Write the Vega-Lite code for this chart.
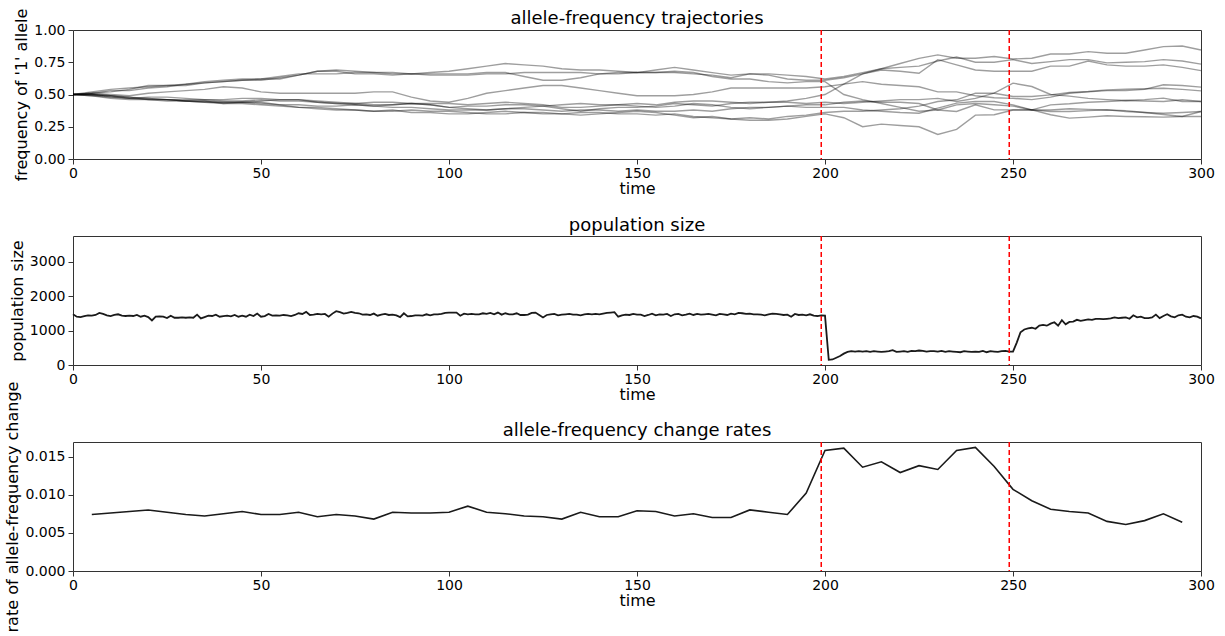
{
"$schema": "https://vega.github.io/schema/vega-lite/v6.json",
"padding": {"left": 4, "top": 7, "right": 5, "bottom": 5},
"config": {
  "font": "DejaVu Sans",
  "view": {"stroke": "#333", "strokeWidth": 1},
  "axis": {"domain": false, "grid": false, "tickColor": "#333", "tickSize": 5, "labelFontSize": 14, "labelColor": "#000", "titleFontSize": 16, "titleFontWeight": "normal", "titleColor": "#000", "labelPadding": 3, "labelFlush": false},
  "axisX": {"labelPadding": 2, "titlePadding": 0},
  "title": {"fontSize": 18, "fontWeight": "normal", "color": "#000", "offset": 5, "frame": "group"}
},
"vconcat": [
{
  "width": 1128, "height": 129,
  "title": {"text": "allele-frequency trajectories", "dy": 25},
  "layer": [
    {
      "data": {"values": [
{"s":1,"t":0,"f":0.50},{"s":1,"t":5,"f":0.52},{"s":1,"t":10,"f":0.54},{"s":1,"t":15,"f":0.55},{"s":1,"t":20,"f":0.56},{"s":1,"t":25,"f":0.57},{"s":1,"t":30,"f":0.57},{"s":1,"t":35,"f":0.59},{"s":1,"t":40,"f":0.60},{"s":1,"t":45,"f":0.61},{"s":1,"t":50,"f":0.61},{"s":1,"t":55,"f":0.63},{"s":1,"t":60,"f":0.65},{"s":1,"t":65,"f":0.68},{"s":1,"t":70,"f":0.69},{"s":1,"t":75,"f":0.68},{"s":1,"t":80,"f":0.67},{"s":1,"t":85,"f":0.67},{"s":1,"t":90,"f":0.66},{"s":1,"t":95,"f":0.67},{"s":1,"t":100,"f":0.68},{"s":1,"t":105,"f":0.70},{"s":1,"t":110,"f":0.72},{"s":1,"t":115,"f":0.74},{"s":1,"t":120,"f":0.73},{"s":1,"t":125,"f":0.72},{"s":1,"t":130,"f":0.70},{"s":1,"t":135,"f":0.69},{"s":1,"t":140,"f":0.69},{"s":1,"t":145,"f":0.68},{"s":1,"t":150,"f":0.67},{"s":1,"t":155,"f":0.69},{"s":1,"t":160,"f":0.71},{"s":1,"t":165,"f":0.69},{"s":1,"t":170,"f":0.67},{"s":1,"t":175,"f":0.65},{"s":1,"t":180,"f":0.66},{"s":1,"t":185,"f":0.66},{"s":1,"t":190,"f":0.65},{"s":1,"t":195,"f":0.64},{"s":1,"t":200,"f":0.62},{"s":1,"t":205,"f":0.64},{"s":1,"t":210,"f":0.67},{"s":1,"t":215,"f":0.70},{"s":1,"t":220,"f":0.71},{"s":1,"t":225,"f":0.72},{"s":1,"t":230,"f":0.76},{"s":1,"t":235,"f":0.79},{"s":1,"t":240,"f":0.75},{"s":1,"t":245,"f":0.75},{"s":1,"t":250,"f":0.77},{"s":1,"t":255,"f":0.74},{"s":1,"t":260,"f":0.755},{"s":1,"t":265,"f":0.77},{"s":1,"t":270,"f":0.77},{"s":1,"t":275,"f":0.745},{"s":1,"t":280,"f":0.75},{"s":1,"t":285,"f":0.755},{"s":1,"t":290,"f":0.77},{"s":1,"t":295,"f":0.76},{"s":1,"t":300,"f":0.735},
{"s":2,"t":0,"f":0.50},{"s":2,"t":5,"f":0.51},{"s":2,"t":10,"f":0.53},{"s":2,"t":15,"f":0.53},{"s":2,"t":20,"f":0.55},{"s":2,"t":25,"f":0.56},{"s":2,"t":30,"f":0.58},{"s":2,"t":35,"f":0.59},{"s":2,"t":40,"f":0.60},{"s":2,"t":45,"f":0.61},{"s":2,"t":50,"f":0.62},{"s":2,"t":55,"f":0.64},{"s":2,"t":60,"f":0.66},{"s":2,"t":65,"f":0.66},{"s":2,"t":70,"f":0.66},{"s":2,"t":75,"f":0.67},{"s":2,"t":80,"f":0.67},{"s":2,"t":85,"f":0.66},{"s":2,"t":90,"f":0.66},{"s":2,"t":95,"f":0.66},{"s":2,"t":100,"f":0.66},{"s":2,"t":105,"f":0.66},{"s":2,"t":110,"f":0.67},{"s":2,"t":115,"f":0.67},{"s":2,"t":120,"f":0.64},{"s":2,"t":125,"f":0.61},{"s":2,"t":130,"f":0.61},{"s":2,"t":135,"f":0.63},{"s":2,"t":140,"f":0.66},{"s":2,"t":145,"f":0.67},{"s":2,"t":150,"f":0.67},{"s":2,"t":155,"f":0.67},{"s":2,"t":160,"f":0.67},{"s":2,"t":165,"f":0.66},{"s":2,"t":170,"f":0.65},{"s":2,"t":175,"f":0.63},{"s":2,"t":180,"f":0.66},{"s":2,"t":185,"f":0.65},{"s":2,"t":190,"f":0.62},{"s":2,"t":195,"f":0.61},{"s":2,"t":200,"f":0.61},{"s":2,"t":205,"f":0.63},{"s":2,"t":210,"f":0.66},{"s":2,"t":215,"f":0.69},{"s":2,"t":220,"f":0.68},{"s":2,"t":225,"f":0.665},{"s":2,"t":230,"f":0.77},{"s":2,"t":235,"f":0.73},{"s":2,"t":240,"f":0.69},{"s":2,"t":245,"f":0.68},{"s":2,"t":250,"f":0.68},{"s":2,"t":255,"f":0.68},{"s":2,"t":260,"f":0.72},{"s":2,"t":265,"f":0.72},{"s":2,"t":270,"f":0.76},{"s":2,"t":275,"f":0.73},{"s":2,"t":280,"f":0.72},{"s":2,"t":285,"f":0.72},{"s":2,"t":290,"f":0.73},{"s":2,"t":295,"f":0.71},{"s":2,"t":300,"f":0.685},
{"s":3,"t":0,"f":0.50},{"s":3,"t":5,"f":0.51},{"s":3,"t":10,"f":0.52},{"s":3,"t":15,"f":0.54},{"s":3,"t":20,"f":0.57},{"s":3,"t":25,"f":0.57},{"s":3,"t":30,"f":0.58},{"s":3,"t":35,"f":0.60},{"s":3,"t":40,"f":0.61},{"s":3,"t":45,"f":0.62},{"s":3,"t":50,"f":0.62},{"s":3,"t":55,"f":0.62},{"s":3,"t":60,"f":0.65},{"s":3,"t":65,"f":0.68},{"s":3,"t":70,"f":0.68},{"s":3,"t":75,"f":0.66},{"s":3,"t":80,"f":0.66},{"s":3,"t":85,"f":0.65},{"s":3,"t":90,"f":0.66},{"s":3,"t":95,"f":0.65},{"s":3,"t":100,"f":0.65},{"s":3,"t":105,"f":0.65},{"s":3,"t":110,"f":0.66},{"s":3,"t":115,"f":0.66},{"s":3,"t":120,"f":0.67},{"s":3,"t":125,"f":0.67},{"s":3,"t":130,"f":0.67},{"s":3,"t":135,"f":0.67},{"s":3,"t":140,"f":0.66},{"s":3,"t":145,"f":0.66},{"s":3,"t":150,"f":0.67},{"s":3,"t":155,"f":0.67},{"s":3,"t":160,"f":0.68},{"s":3,"t":165,"f":0.67},{"s":3,"t":170,"f":0.64},{"s":3,"t":175,"f":0.62},{"s":3,"t":180,"f":0.62},{"s":3,"t":185,"f":0.60},{"s":3,"t":190,"f":0.59},{"s":3,"t":195,"f":0.60},{"s":3,"t":200,"f":0.60},{"s":3,"t":205,"f":0.50},{"s":3,"t":210,"f":0.46},{"s":3,"t":215,"f":0.43},{"s":3,"t":220,"f":0.40},{"s":3,"t":225,"f":0.37},{"s":3,"t":230,"f":0.38},{"s":3,"t":235,"f":0.42},{"s":3,"t":240,"f":0.43},{"s":3,"t":245,"f":0.42},{"s":3,"t":250,"f":0.41},{"s":3,"t":255,"f":0.38},{"s":3,"t":260,"f":0.38},{"s":3,"t":265,"f":0.39},{"s":3,"t":270,"f":0.385},{"s":3,"t":275,"f":0.38},{"s":3,"t":280,"f":0.375},{"s":3,"t":285,"f":0.36},{"s":3,"t":290,"f":0.345},{"s":3,"t":295,"f":0.33},{"s":3,"t":300,"f":0.368},
{"s":4,"t":0,"f":0.50},{"s":4,"t":5,"f":0.50},{"s":4,"t":10,"f":0.49},{"s":4,"t":15,"f":0.48},{"s":4,"t":20,"f":0.46},{"s":4,"t":25,"f":0.46},{"s":4,"t":30,"f":0.45},{"s":4,"t":35,"f":0.45},{"s":4,"t":40,"f":0.44},{"s":4,"t":45,"f":0.44},{"s":4,"t":50,"f":0.45},{"s":4,"t":55,"f":0.46},{"s":4,"t":60,"f":0.46},{"s":4,"t":65,"f":0.45},{"s":4,"t":70,"f":0.44},{"s":4,"t":75,"f":0.43},{"s":4,"t":80,"f":0.42},{"s":4,"t":85,"f":0.42},{"s":4,"t":90,"f":0.43},{"s":4,"t":95,"f":0.42},{"s":4,"t":100,"f":0.40},{"s":4,"t":105,"f":0.41},{"s":4,"t":110,"f":0.41},{"s":4,"t":115,"f":0.42},{"s":4,"t":120,"f":0.42},{"s":4,"t":125,"f":0.41},{"s":4,"t":130,"f":0.39},{"s":4,"t":135,"f":0.37},{"s":4,"t":140,"f":0.39},{"s":4,"t":145,"f":0.40},{"s":4,"t":150,"f":0.40},{"s":4,"t":155,"f":0.41},{"s":4,"t":160,"f":0.43},{"s":4,"t":165,"f":0.42},{"s":4,"t":170,"f":0.41},{"s":4,"t":175,"f":0.43},{"s":4,"t":180,"f":0.44},{"s":4,"t":185,"f":0.44},{"s":4,"t":190,"f":0.45},{"s":4,"t":195,"f":0.47},{"s":4,"t":200,"f":0.50},{"s":4,"t":205,"f":0.58},{"s":4,"t":210,"f":0.66},{"s":4,"t":215,"f":0.70},{"s":4,"t":220,"f":0.74},{"s":4,"t":225,"f":0.78},{"s":4,"t":230,"f":0.807},{"s":4,"t":235,"f":0.781},{"s":4,"t":240,"f":0.781},{"s":4,"t":245,"f":0.794},{"s":4,"t":250,"f":0.775},{"s":4,"t":255,"f":0.781},{"s":4,"t":260,"f":0.814},{"s":4,"t":265,"f":0.814},{"s":4,"t":270,"f":0.832},{"s":4,"t":275,"f":0.82},{"s":4,"t":280,"f":0.82},{"s":4,"t":285,"f":0.845},{"s":4,"t":290,"f":0.871},{"s":4,"t":295,"f":0.876},{"s":4,"t":300,"f":0.845},
{"s":5,"t":0,"f":0.50},{"s":5,"t":5,"f":0.51},{"s":5,"t":10,"f":0.50},{"s":5,"t":15,"f":0.49},{"s":5,"t":20,"f":0.51},{"s":5,"t":25,"f":0.52},{"s":5,"t":30,"f":0.53},{"s":5,"t":35,"f":0.54},{"s":5,"t":40,"f":0.56},{"s":5,"t":45,"f":0.55},{"s":5,"t":50,"f":0.52},{"s":5,"t":55,"f":0.51},{"s":5,"t":60,"f":0.51},{"s":5,"t":65,"f":0.51},{"s":5,"t":70,"f":0.51},{"s":5,"t":75,"f":0.51},{"s":5,"t":80,"f":0.52},{"s":5,"t":85,"f":0.52},{"s":5,"t":90,"f":0.48},{"s":5,"t":95,"f":0.45},{"s":5,"t":100,"f":0.44},{"s":5,"t":105,"f":0.47},{"s":5,"t":110,"f":0.51},{"s":5,"t":115,"f":0.53},{"s":5,"t":120,"f":0.55},{"s":5,"t":125,"f":0.57},{"s":5,"t":130,"f":0.57},{"s":5,"t":135,"f":0.55},{"s":5,"t":140,"f":0.53},{"s":5,"t":145,"f":0.51},{"s":5,"t":150,"f":0.49},{"s":5,"t":155,"f":0.49},{"s":5,"t":160,"f":0.49},{"s":5,"t":165,"f":0.50},{"s":5,"t":170,"f":0.52},{"s":5,"t":175,"f":0.55},{"s":5,"t":180,"f":0.55},{"s":5,"t":185,"f":0.55},{"s":5,"t":190,"f":0.55},{"s":5,"t":195,"f":0.55},{"s":5,"t":200,"f":0.56},{"s":5,"t":205,"f":0.58},{"s":5,"t":210,"f":0.60},{"s":5,"t":215,"f":0.58},{"s":5,"t":220,"f":0.57},{"s":5,"t":225,"f":0.56},{"s":5,"t":230,"f":0.52},{"s":5,"t":235,"f":0.52},{"s":5,"t":240,"f":0.49},{"s":5,"t":245,"f":0.475},{"s":5,"t":250,"f":0.47},{"s":5,"t":255,"f":0.46},{"s":5,"t":260,"f":0.48},{"s":5,"t":265,"f":0.51},{"s":5,"t":270,"f":0.52},{"s":5,"t":275,"f":0.53},{"s":5,"t":280,"f":0.53},{"s":5,"t":285,"f":0.54},{"s":5,"t":290,"f":0.575},{"s":5,"t":295,"f":0.57},{"s":5,"t":300,"f":0.557},
{"s":6,"t":0,"f":0.50},{"s":6,"t":5,"f":0.49},{"s":6,"t":10,"f":0.48},{"s":6,"t":15,"f":0.47},{"s":6,"t":20,"f":0.47},{"s":6,"t":25,"f":0.46},{"s":6,"t":30,"f":0.46},{"s":6,"t":35,"f":0.46},{"s":6,"t":40,"f":0.45},{"s":6,"t":45,"f":0.45},{"s":6,"t":50,"f":0.46},{"s":6,"t":55,"f":0.45},{"s":6,"t":60,"f":0.45},{"s":6,"t":65,"f":0.44},{"s":6,"t":70,"f":0.43},{"s":6,"t":75,"f":0.42},{"s":6,"t":80,"f":0.41},{"s":6,"t":85,"f":0.42},{"s":6,"t":90,"f":0.43},{"s":6,"t":95,"f":0.43},{"s":6,"t":100,"f":0.43},{"s":6,"t":105,"f":0.42},{"s":6,"t":110,"f":0.43},{"s":6,"t":115,"f":0.44},{"s":6,"t":120,"f":0.43},{"s":6,"t":125,"f":0.42},{"s":6,"t":130,"f":0.40},{"s":6,"t":135,"f":0.40},{"s":6,"t":140,"f":0.41},{"s":6,"t":145,"f":0.42},{"s":6,"t":150,"f":0.43},{"s":6,"t":155,"f":0.42},{"s":6,"t":160,"f":0.44},{"s":6,"t":165,"f":0.45},{"s":6,"t":170,"f":0.45},{"s":6,"t":175,"f":0.44},{"s":6,"t":180,"f":0.43},{"s":6,"t":185,"f":0.44},{"s":6,"t":190,"f":0.44},{"s":6,"t":195,"f":0.43},{"s":6,"t":200,"f":0.44},{"s":6,"t":205,"f":0.43},{"s":6,"t":210,"f":0.44},{"s":6,"t":215,"f":0.45},{"s":6,"t":220,"f":0.46},{"s":6,"t":225,"f":0.46},{"s":6,"t":230,"f":0.47},{"s":6,"t":235,"f":0.446},{"s":6,"t":240,"f":0.47},{"s":6,"t":245,"f":0.51},{"s":6,"t":250,"f":0.588},{"s":6,"t":255,"f":0.562},{"s":6,"t":260,"f":0.50},{"s":6,"t":265,"f":0.487},{"s":6,"t":270,"f":0.47},{"s":6,"t":275,"f":0.46},{"s":6,"t":280,"f":0.453},{"s":6,"t":285,"f":0.46},{"s":6,"t":290,"f":0.472},{"s":6,"t":295,"f":0.446},{"s":6,"t":300,"f":0.446},
{"s":7,"t":0,"f":0.50},{"s":7,"t":5,"f":0.50},{"s":7,"t":10,"f":0.49},{"s":7,"t":15,"f":0.48},{"s":7,"t":20,"f":0.47},{"s":7,"t":25,"f":0.46},{"s":7,"t":30,"f":0.45},{"s":7,"t":35,"f":0.44},{"s":7,"t":40,"f":0.44},{"s":7,"t":45,"f":0.44},{"s":7,"t":50,"f":0.44},{"s":7,"t":55,"f":0.42},{"s":7,"t":60,"f":0.40},{"s":7,"t":65,"f":0.39},{"s":7,"t":70,"f":0.38},{"s":7,"t":75,"f":0.38},{"s":7,"t":80,"f":0.37},{"s":7,"t":85,"f":0.38},{"s":7,"t":90,"f":0.36},{"s":7,"t":95,"f":0.36},{"s":7,"t":100,"f":0.35},{"s":7,"t":105,"f":0.35},{"s":7,"t":110,"f":0.36},{"s":7,"t":115,"f":0.37},{"s":7,"t":120,"f":0.36},{"s":7,"t":125,"f":0.35},{"s":7,"t":130,"f":0.35},{"s":7,"t":135,"f":0.36},{"s":7,"t":140,"f":0.36},{"s":7,"t":145,"f":0.35},{"s":7,"t":150,"f":0.35},{"s":7,"t":155,"f":0.34},{"s":7,"t":160,"f":0.35},{"s":7,"t":165,"f":0.33},{"s":7,"t":170,"f":0.32},{"s":7,"t":175,"f":0.31},{"s":7,"t":180,"f":0.32},{"s":7,"t":185,"f":0.31},{"s":7,"t":190,"f":0.33},{"s":7,"t":195,"f":0.34},{"s":7,"t":200,"f":0.36},{"s":7,"t":205,"f":0.37},{"s":7,"t":210,"f":0.37},{"s":7,"t":215,"f":0.38},{"s":7,"t":220,"f":0.39},{"s":7,"t":225,"f":0.41},{"s":7,"t":230,"f":0.446},{"s":7,"t":235,"f":0.459},{"s":7,"t":240,"f":0.51},{"s":7,"t":245,"f":0.51},{"s":7,"t":250,"f":0.484},{"s":7,"t":255,"f":0.484},{"s":7,"t":260,"f":0.497},{"s":7,"t":265,"f":0.515},{"s":7,"t":270,"f":0.523},{"s":7,"t":275,"f":0.536},{"s":7,"t":280,"f":0.541},{"s":7,"t":285,"f":0.545},{"s":7,"t":290,"f":0.549},{"s":7,"t":295,"f":0.54},{"s":7,"t":300,"f":0.528},
{"s":8,"t":0,"f":0.50},{"s":8,"t":5,"f":0.50},{"s":8,"t":10,"f":0.48},{"s":8,"t":15,"f":0.47},{"s":8,"t":20,"f":0.48},{"s":8,"t":25,"f":0.48},{"s":8,"t":30,"f":0.47},{"s":8,"t":35,"f":0.46},{"s":8,"t":40,"f":0.46},{"s":8,"t":45,"f":0.47},{"s":8,"t":50,"f":0.47},{"s":8,"t":55,"f":0.46},{"s":8,"t":60,"f":0.46},{"s":8,"t":65,"f":0.44},{"s":8,"t":70,"f":0.43},{"s":8,"t":75,"f":0.43},{"s":8,"t":80,"f":0.44},{"s":8,"t":85,"f":0.44},{"s":8,"t":90,"f":0.43},{"s":8,"t":95,"f":0.42},{"s":8,"t":100,"f":0.40},{"s":8,"t":105,"f":0.39},{"s":8,"t":110,"f":0.38},{"s":8,"t":115,"f":0.39},{"s":8,"t":120,"f":0.40},{"s":8,"t":125,"f":0.41},{"s":8,"t":130,"f":0.42},{"s":8,"t":135,"f":0.43},{"s":8,"t":140,"f":0.42},{"s":8,"t":145,"f":0.42},{"s":8,"t":150,"f":0.41},{"s":8,"t":155,"f":0.40},{"s":8,"t":160,"f":0.41},{"s":8,"t":165,"f":0.43},{"s":8,"t":170,"f":0.42},{"s":8,"t":175,"f":0.40},{"s":8,"t":180,"f":0.39},{"s":8,"t":185,"f":0.40},{"s":8,"t":190,"f":0.41},{"s":8,"t":195,"f":0.42},{"s":8,"t":200,"f":0.42},{"s":8,"t":205,"f":0.44},{"s":8,"t":210,"f":0.45},{"s":8,"t":215,"f":0.44},{"s":8,"t":220,"f":0.44},{"s":8,"t":225,"f":0.43},{"s":8,"t":230,"f":0.38},{"s":8,"t":235,"f":0.368},{"s":8,"t":240,"f":0.42},{"s":8,"t":245,"f":0.381},{"s":8,"t":250,"f":0.381},{"s":8,"t":255,"f":0.381},{"s":8,"t":260,"f":0.42},{"s":8,"t":265,"f":0.428},{"s":8,"t":270,"f":0.44},{"s":8,"t":275,"f":0.446},{"s":8,"t":280,"f":0.453},{"s":8,"t":285,"f":0.45},{"s":8,"t":290,"f":0.446},{"s":8,"t":295,"f":0.459},{"s":8,"t":300,"f":0.446},
{"s":9,"t":0,"f":0.50},{"s":9,"t":5,"f":0.49},{"s":9,"t":10,"f":0.47},{"s":9,"t":15,"f":0.46},{"s":9,"t":20,"f":0.46},{"s":9,"t":25,"f":0.45},{"s":9,"t":30,"f":0.45},{"s":9,"t":35,"f":0.44},{"s":9,"t":40,"f":0.43},{"s":9,"t":45,"f":0.44},{"s":9,"t":50,"f":0.43},{"s":9,"t":55,"f":0.42},{"s":9,"t":60,"f":0.42},{"s":9,"t":65,"f":0.41},{"s":9,"t":70,"f":0.41},{"s":9,"t":75,"f":0.42},{"s":9,"t":80,"f":0.41},{"s":9,"t":85,"f":0.40},{"s":9,"t":90,"f":0.40},{"s":9,"t":95,"f":0.39},{"s":9,"t":100,"f":0.38},{"s":9,"t":105,"f":0.38},{"s":9,"t":110,"f":0.38},{"s":9,"t":115,"f":0.39},{"s":9,"t":120,"f":0.39},{"s":9,"t":125,"f":0.38},{"s":9,"t":130,"f":0.37},{"s":9,"t":135,"f":0.38},{"s":9,"t":140,"f":0.38},{"s":9,"t":145,"f":0.37},{"s":9,"t":150,"f":0.38},{"s":9,"t":155,"f":0.37},{"s":9,"t":160,"f":0.37},{"s":9,"t":165,"f":0.38},{"s":9,"t":170,"f":0.37},{"s":9,"t":175,"f":0.39},{"s":9,"t":180,"f":0.40},{"s":9,"t":185,"f":0.40},{"s":9,"t":190,"f":0.41},{"s":9,"t":195,"f":0.40},{"s":9,"t":200,"f":0.40},{"s":9,"t":205,"f":0.40},{"s":9,"t":210,"f":0.38},{"s":9,"t":215,"f":0.37},{"s":9,"t":220,"f":0.36},{"s":9,"t":225,"f":0.355},{"s":9,"t":230,"f":0.394},{"s":9,"t":235,"f":0.433},{"s":9,"t":240,"f":0.446},{"s":9,"t":245,"f":0.446},{"s":9,"t":250,"f":0.42},{"s":9,"t":255,"f":0.381},{"s":9,"t":260,"f":0.343},{"s":9,"t":265,"f":0.317},{"s":9,"t":270,"f":0.325},{"s":9,"t":275,"f":0.335},{"s":9,"t":280,"f":0.33},{"s":9,"t":285,"f":0.328},{"s":9,"t":290,"f":0.325},{"s":9,"t":295,"f":0.33},{"s":9,"t":300,"f":0.33},
{"s":10,"t":0,"f":0.50},{"s":10,"t":5,"f":0.50},{"s":10,"t":10,"f":0.49},{"s":10,"t":15,"f":0.47},{"s":10,"t":20,"f":0.46},{"s":10,"t":25,"f":0.46},{"s":10,"t":30,"f":0.45},{"s":10,"t":35,"f":0.45},{"s":10,"t":40,"f":0.43},{"s":10,"t":45,"f":0.43},{"s":10,"t":50,"f":0.42},{"s":10,"t":55,"f":0.41},{"s":10,"t":60,"f":0.40},{"s":10,"t":65,"f":0.40},{"s":10,"t":70,"f":0.39},{"s":10,"t":75,"f":0.38},{"s":10,"t":80,"f":0.37},{"s":10,"t":85,"f":0.37},{"s":10,"t":90,"f":0.38},{"s":10,"t":95,"f":0.37},{"s":10,"t":100,"f":0.37},{"s":10,"t":105,"f":0.36},{"s":10,"t":110,"f":0.35},{"s":10,"t":115,"f":0.35},{"s":10,"t":120,"f":0.36},{"s":10,"t":125,"f":0.36},{"s":10,"t":130,"f":0.35},{"s":10,"t":135,"f":0.34},{"s":10,"t":140,"f":0.35},{"s":10,"t":145,"f":0.36},{"s":10,"t":150,"f":0.37},{"s":10,"t":155,"f":0.36},{"s":10,"t":160,"f":0.34},{"s":10,"t":165,"f":0.32},{"s":10,"t":170,"f":0.33},{"s":10,"t":175,"f":0.31},{"s":10,"t":180,"f":0.30},{"s":10,"t":185,"f":0.30},{"s":10,"t":190,"f":0.31},{"s":10,"t":195,"f":0.33},{"s":10,"t":200,"f":0.35},{"s":10,"t":205,"f":0.32},{"s":10,"t":210,"f":0.25},{"s":10,"t":215,"f":0.27},{"s":10,"t":220,"f":0.26},{"s":10,"t":225,"f":0.25},{"s":10,"t":230,"f":0.19},{"s":10,"t":235,"f":0.23},{"s":10,"t":240,"f":0.34},{"s":10,"t":245,"f":0.343},{"s":10,"t":250,"f":0.38},{"s":10,"t":255,"f":0.381},{"s":10,"t":260,"f":0.368},{"s":10,"t":265,"f":0.368},{"s":10,"t":270,"f":0.375},{"s":10,"t":275,"f":0.381},{"s":10,"t":280,"f":0.368},{"s":10,"t":285,"f":0.36},{"s":10,"t":290,"f":0.355},{"s":10,"t":295,"f":0.36},{"s":10,"t":300,"f":0.368}
      ]},
      "mark": {"type": "line", "color": "#000", "opacity": 0.38, "strokeWidth": 1.4},
      "encoding": {
        "x": {"field": "t", "type": "quantitative", "scale": {"domain": [0, 300], "nice": false}, "axis": {"title": "time", "values": [0, 50, 100, 150, 200, 250, 300]}},
        "y": {"field": "f", "type": "quantitative", "scale": {"domain": [0, 1], "nice": false}, "axis": {"title": "frequency of '1' allele", "values": [0, 0.25, 0.5, 0.75, 1], "format": ".2f"}},
        "detail": {"field": "s", "type": "nominal"}
      }
    },
    {
      "data": {"values": [{"t": 199}, {"t": 249}]},
      "mark": {"type": "rule", "color": "red", "strokeDash": [5, 3], "strokeWidth": 1.5},
      "encoding": {"x": {"field": "t", "type": "quantitative"}}
    }
  ]
},
{
  "width": 1128, "height": 129,
  "title": {"text": "population size", "dy": 5},
  "layer": [
    {
      "data": {"values": [
{"t":0,"n":1470},{"t":1,"n":1400},{"t":2,"n":1390},{"t":3,"n":1420},{"t":4,"n":1440},{"t":5,"n":1430},{"t":6,"n":1450},{"t":7,"n":1510},{"t":8,"n":1480},{"t":9,"n":1440},
{"t":10,"n":1420},{"t":11,"n":1450},{"t":12,"n":1470},{"t":13,"n":1430},{"t":14,"n":1420},{"t":15,"n":1430},{"t":16,"n":1420},{"t":17,"n":1450},{"t":18,"n":1400},{"t":19,"n":1430},
{"t":20,"n":1390},{"t":21,"n":1290},{"t":22,"n":1400},{"t":23,"n":1410},{"t":24,"n":1400},{"t":25,"n":1360},{"t":26,"n":1430},{"t":27,"n":1370},{"t":28,"n":1370},{"t":29,"n":1380},
{"t":30,"n":1370},{"t":31,"n":1380},{"t":32,"n":1370},{"t":33,"n":1460},{"t":34,"n":1350},{"t":35,"n":1390},{"t":36,"n":1430},{"t":37,"n":1420},{"t":38,"n":1460},{"t":39,"n":1400},
{"t":40,"n":1420},{"t":41,"n":1430},{"t":42,"n":1410},{"t":43,"n":1450},{"t":44,"n":1400},{"t":45,"n":1430},{"t":46,"n":1400},{"t":47,"n":1460},{"t":48,"n":1420},{"t":49,"n":1490},
{"t":50,"n":1400},{"t":51,"n":1420},{"t":52,"n":1480},{"t":53,"n":1430},{"t":54,"n":1440},{"t":55,"n":1430},{"t":56,"n":1450},{"t":57,"n":1440},{"t":58,"n":1420},{"t":59,"n":1450},
{"t":60,"n":1500},{"t":61,"n":1480},{"t":62,"n":1540},{"t":63,"n":1450},{"t":64,"n":1460},{"t":65,"n":1480},{"t":66,"n":1470},{"t":67,"n":1480},{"t":68,"n":1400},{"t":69,"n":1490},
{"t":70,"n":1560},{"t":71,"n":1530},{"t":72,"n":1490},{"t":73,"n":1510},{"t":74,"n":1540},{"t":75,"n":1510},{"t":76,"n":1500},{"t":77,"n":1460},{"t":78,"n":1470},{"t":79,"n":1450},
{"t":80,"n":1490},{"t":81,"n":1430},{"t":82,"n":1460},{"t":83,"n":1480},{"t":84,"n":1450},{"t":85,"n":1460},{"t":86,"n":1440},{"t":87,"n":1390},{"t":88,"n":1500},{"t":89,"n":1410},
{"t":90,"n":1420},{"t":91,"n":1440},{"t":92,"n":1440},{"t":93,"n":1430},{"t":94,"n":1470},{"t":95,"n":1440},{"t":96,"n":1470},{"t":97,"n":1470},{"t":98,"n":1480},{"t":99,"n":1510},
{"t":100,"n":1520},{"t":101,"n":1520},{"t":102,"n":1520},{"t":103,"n":1430},{"t":104,"n":1490},{"t":105,"n":1470},{"t":106,"n":1480},{"t":107,"n":1470},{"t":108,"n":1470},{"t":109,"n":1500},
{"t":110,"n":1480},{"t":111,"n":1510},{"t":112,"n":1470},{"t":113,"n":1520},{"t":114,"n":1460},{"t":115,"n":1500},{"t":116,"n":1470},{"t":117,"n":1470},{"t":118,"n":1500},{"t":119,"n":1450},
{"t":120,"n":1450},{"t":121,"n":1460},{"t":122,"n":1510},{"t":123,"n":1520},{"t":124,"n":1450},{"t":125,"n":1380},{"t":126,"n":1450},{"t":127,"n":1470},{"t":128,"n":1480},{"t":129,"n":1440},
{"t":130,"n":1460},{"t":131,"n":1470},{"t":132,"n":1480},{"t":133,"n":1460},{"t":134,"n":1460},{"t":135,"n":1440},{"t":136,"n":1470},{"t":137,"n":1480},{"t":138,"n":1470},{"t":139,"n":1480},
{"t":140,"n":1470},{"t":141,"n":1490},{"t":142,"n":1510},{"t":143,"n":1520},{"t":144,"n":1530},{"t":145,"n":1400},{"t":146,"n":1440},{"t":147,"n":1460},{"t":148,"n":1450},{"t":149,"n":1480},
{"t":150,"n":1460},{"t":151,"n":1460},{"t":152,"n":1420},{"t":153,"n":1450},{"t":154,"n":1490},{"t":155,"n":1440},{"t":156,"n":1470},{"t":157,"n":1460},{"t":158,"n":1480},{"t":159,"n":1420},
{"t":160,"n":1470},{"t":161,"n":1480},{"t":162,"n":1440},{"t":163,"n":1460},{"t":164,"n":1490},{"t":165,"n":1450},{"t":166,"n":1480},{"t":167,"n":1460},{"t":168,"n":1470},{"t":169,"n":1480},
{"t":170,"n":1460},{"t":171,"n":1440},{"t":172,"n":1480},{"t":173,"n":1470},{"t":174,"n":1450},{"t":175,"n":1490},{"t":176,"n":1470},{"t":177,"n":1510},{"t":178,"n":1500},{"t":179,"n":1480},
{"t":180,"n":1490},{"t":181,"n":1470},{"t":182,"n":1470},{"t":183,"n":1460},{"t":184,"n":1440},{"t":185,"n":1470},{"t":186,"n":1490},{"t":187,"n":1480},{"t":188,"n":1470},{"t":189,"n":1450},
{"t":190,"n":1460},{"t":191,"n":1400},{"t":192,"n":1480},{"t":193,"n":1450},{"t":194,"n":1460},{"t":195,"n":1440},{"t":196,"n":1470},{"t":197,"n":1430},{"t":198,"n":1420},{"t":199,"n":1440},
{"t":200,"n":1430},{"t":201,"n":150},{"t":202,"n":160},{"t":203,"n":210},{"t":204,"n":260},{"t":205,"n":330},{"t":206,"n":380},{"t":207,"n":400},{"t":208,"n":390},{"t":209,"n":400},
{"t":210,"n":390},{"t":211,"n":400},{"t":212,"n":380},{"t":213,"n":400},{"t":214,"n":390},{"t":215,"n":380},{"t":216,"n":390},{"t":217,"n":400},{"t":218,"n":430},{"t":219,"n":380},
{"t":220,"n":390},{"t":221,"n":400},{"t":222,"n":380},{"t":223,"n":410},{"t":224,"n":400},{"t":225,"n":420},{"t":226,"n":410},{"t":227,"n":390},{"t":228,"n":400},{"t":229,"n":400},
{"t":230,"n":390},{"t":231,"n":410},{"t":232,"n":380},{"t":233,"n":400},{"t":234,"n":390},{"t":235,"n":380},{"t":236,"n":370},{"t":237,"n":400},{"t":238,"n":390},{"t":239,"n":380},
{"t":240,"n":390},{"t":241,"n":380},{"t":242,"n":410},{"t":243,"n":370},{"t":244,"n":400},{"t":245,"n":390},{"t":246,"n":380},{"t":247,"n":400},{"t":248,"n":410},{"t":249,"n":390},
{"t":250,"n":390},{"t":251,"n":650},{"t":252,"n":950},{"t":253,"n":1030},{"t":254,"n":1060},{"t":255,"n":1080},{"t":256,"n":1050},{"t":257,"n":1140},{"t":258,"n":1160},{"t":259,"n":1140},
{"t":260,"n":1200},{"t":261,"n":1240},{"t":262,"n":1140},{"t":263,"n":1300},{"t":264,"n":1180},{"t":265,"n":1250},{"t":266,"n":1260},{"t":267,"n":1310},{"t":268,"n":1280},{"t":269,"n":1300},
{"t":270,"n":1320},{"t":271,"n":1310},{"t":272,"n":1340},{"t":273,"n":1340},{"t":274,"n":1330},{"t":275,"n":1340},{"t":276,"n":1350},{"t":277,"n":1380},{"t":278,"n":1360},{"t":279,"n":1370},
{"t":280,"n":1380},{"t":281,"n":1340},{"t":282,"n":1440},{"t":283,"n":1380},{"t":284,"n":1400},{"t":285,"n":1360},{"t":286,"n":1360},{"t":287,"n":1380},{"t":288,"n":1460},{"t":289,"n":1360},
{"t":290,"n":1420},{"t":291,"n":1470},{"t":292,"n":1410},{"t":293,"n":1380},{"t":294,"n":1440},{"t":295,"n":1460},{"t":296,"n":1400},{"t":297,"n":1380},{"t":298,"n":1420},{"t":299,"n":1400},
{"t":300,"n":1350}
      ]},
      "mark": {"type": "line", "color": "#1a1a1a", "strokeWidth": 1.8},
      "encoding": {
        "x": {"field": "t", "type": "quantitative", "scale": {"domain": [0, 300], "nice": false}, "axis": {"title": "time", "values": [0, 50, 100, 150, 200, 250, 300]}},
        "y": {"field": "n", "type": "quantitative", "scale": {"domain": [0, 3740], "nice": false}, "axis": {"title": "population size", "values": [0, 1000, 2000, 3000], "format": "d"}}
      }
    },
    {
      "data": {"values": [{"t": 199}, {"t": 249}]},
      "mark": {"type": "rule", "color": "red", "strokeDash": [5, 3], "strokeWidth": 1.5},
      "encoding": {"x": {"field": "t", "type": "quantitative"}}
    }
  ]
},
{
  "width": 1128, "height": 129,
  "title": {"text": "allele-frequency change rates", "dy": 64},
  "layer": [
    {
      "data": {"values": [
{"t":5,"r":0.0074},{"t":10,"r":0.0076},{"t":15,"r":0.0078},{"t":20,"r":0.0080},{"t":25,"r":0.0077},{"t":30,"r":0.0074},{"t":35,"r":0.0072},{"t":40,"r":0.0075},{"t":45,"r":0.0078},{"t":50,"r":0.0074},
{"t":55,"r":0.0074},{"t":60,"r":0.0077},{"t":65,"r":0.0071},{"t":70,"r":0.0074},{"t":75,"r":0.0072},{"t":80,"r":0.0068},{"t":85,"r":0.0077},{"t":90,"r":0.0076},{"t":95,"r":0.0076},{"t":100,"r":0.0077},
{"t":105,"r":0.0085},{"t":110,"r":0.0077},{"t":115,"r":0.0075},{"t":120,"r":0.0072},{"t":125,"r":0.0071},{"t":130,"r":0.0068},{"t":135,"r":0.0077},{"t":140,"r":0.0071},{"t":145,"r":0.0071},{"t":150,"r":0.0079},
{"t":155,"r":0.0078},{"t":160,"r":0.0072},{"t":165,"r":0.0075},{"t":170,"r":0.0070},{"t":175,"r":0.0070},{"t":180,"r":0.0080},{"t":185,"r":0.0077},{"t":190,"r":0.0074},{"t":195,"r":0.0102},{"t":200,"r":0.0158},
{"t":205,"r":0.0161},{"t":210,"r":0.0136},{"t":215,"r":0.0143},{"t":220,"r":0.0129},{"t":225,"r":0.0138},{"t":230,"r":0.0133},{"t":235,"r":0.0158},{"t":240,"r":0.0162},{"t":245,"r":0.0137},{"t":250,"r":0.0107},
{"t":255,"r":0.0092},{"t":260,"r":0.0081},{"t":265,"r":0.0078},{"t":270,"r":0.0076},{"t":275,"r":0.0065},{"t":280,"r":0.0061},{"t":285,"r":0.0066},{"t":290,"r":0.0075},{"t":295,"r":0.0064}
      ]},
      "mark": {"type": "line", "color": "#1a1a1a", "strokeWidth": 1.6},
      "encoding": {
        "x": {"field": "t", "type": "quantitative", "scale": {"domain": [0, 300], "nice": false}, "axis": {"title": "time", "values": [0, 50, 100, 150, 200, 250, 300]}},
        "y": {"field": "r", "type": "quantitative", "scale": {"domain": [0, 0.0169], "nice": false}, "axis": {"title": "rate of allele-frequency change", "values": [0, 0.005, 0.01, 0.015], "format": ".3f"}}
      }
    },
    {
      "data": {"values": [{"t": 199}, {"t": 249}]},
      "mark": {"type": "rule", "color": "red", "strokeDash": [5, 3], "strokeWidth": 1.5},
      "encoding": {"x": {"field": "t", "type": "quantitative"}}
    }
  ]
}
],
"spacing": 77,
"bounds": "flush"
}
